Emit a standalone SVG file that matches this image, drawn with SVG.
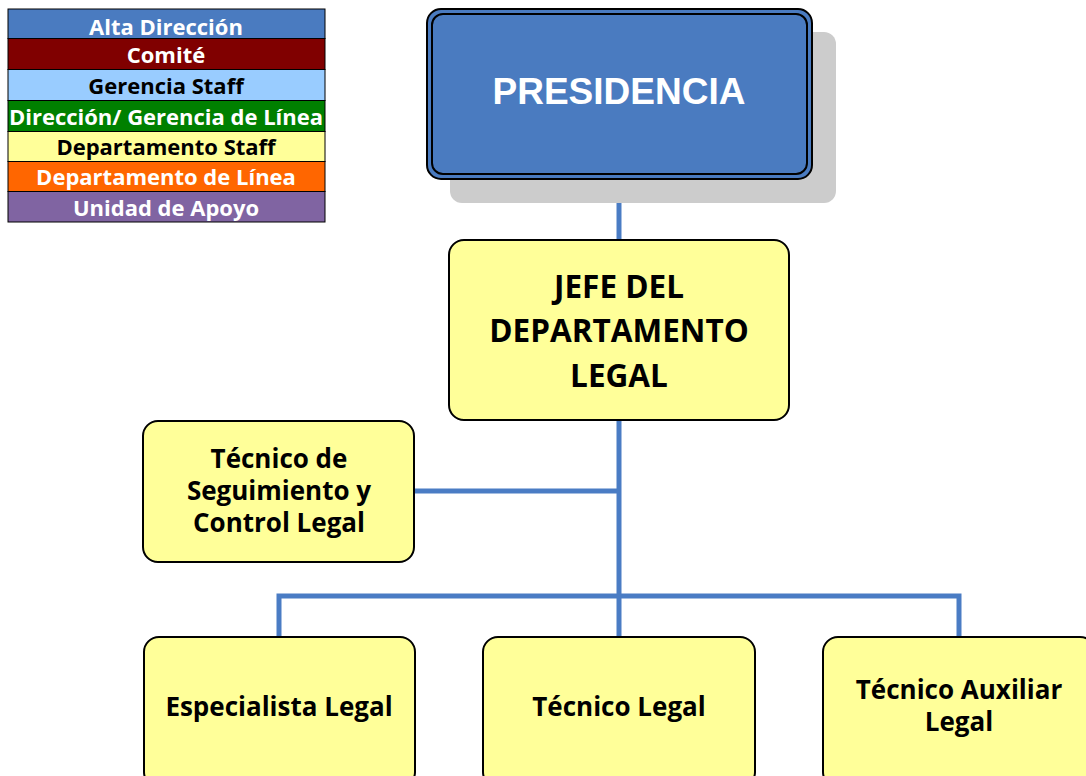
<svg xmlns="http://www.w3.org/2000/svg" width="1086" height="776" viewBox="0 0 1086 776">
<style>
.lg{font-family:"Open Sans",Lato,"Liberation Sans",sans-serif;font-weight:bold;font-size:22px;text-anchor:middle}
.box{fill:#ffff99;stroke:#000;stroke-width:2}
.t{font-family:"Open Sans",Lato,"Liberation Sans",sans-serif;font-weight:bold;fill:#000;text-anchor:middle}
.c{stroke:#4a7cc4;stroke-width:5;fill:none}
</style>
<rect width="1086" height="776" fill="#fff"/>
<g id="legend" stroke="#000" stroke-width="1">
<rect x="8" y="9" width="317" height="29.5" fill="#4a7bc0"/>
<rect x="8" y="38.5" width="317" height="31" fill="#800000"/>
<rect x="8" y="69.5" width="317" height="31" fill="#99ccff"/>
<rect x="8" y="100.5" width="317" height="31" fill="#008000"/>
<rect x="8" y="131.5" width="317" height="30" fill="#ffff99"/>
<rect x="8" y="161.5" width="317" height="30" fill="#ff6600"/>
<rect x="8" y="191.5" width="317" height="30.5" fill="#8064a2"/>
</g>
<g id="legend-text">
<text class="lg" x="166" y="35" fill="#fff">Alta Dirección</text>
<text class="lg" x="166" y="63" fill="#fff">Comité</text>
<text class="lg" x="166" y="94" fill="#000">Gerencia Staff</text>
<text class="lg" x="166" y="125" fill="#fff">Dirección/ Gerencia de Línea</text>
<text class="lg" x="166" y="155" fill="#000">Departamento Staff</text>
<text class="lg" x="166" y="185" fill="#fff">Departamento de Línea</text>
<text class="lg" x="166" y="216" fill="#fff">Unidad de Apoyo</text>
</g>
<g id="connectors">
<line class="c" x1="619" y1="179" x2="619" y2="240"/>
<line class="c" x1="619" y1="420" x2="619" y2="637"/>
<line class="c" x1="414" y1="491" x2="619" y2="491"/>
<polyline class="c" points="279,637 279,596 959,596 959,637"/>
</g>
<g id="presidencia">
<rect x="450" y="32" width="386" height="171" rx="12" fill="#cccccc"/>
<rect x="427" y="9" width="385" height="170" rx="14" fill="#4a7bc0" stroke="#000" stroke-width="2"/>
<rect x="432" y="14" width="375" height="160" rx="11" fill="none" stroke="#000" stroke-width="2"/>
<text x="619" y="104" font-family="Liberation Sans,Arial,sans-serif" font-weight="bold" font-size="37" fill="#fff" text-anchor="middle">PRESIDENCIA</text>
</g>
<g id="jefe">
<rect class="box" x="449" y="240" width="340" height="180" rx="15"/>
<text class="t" font-size="31.5" x="619" y="298">JEFE DEL</text>
<text class="t" font-size="31.5" x="619" y="342">DEPARTAMENTO</text>
<text class="t" font-size="31.5" x="619" y="387">LEGAL</text>
</g>
<g id="seguimiento">
<rect class="box" x="143" y="421" width="271" height="141" rx="15"/>
<text class="t" font-size="26" x="279" y="468">Técnico de</text>
<text class="t" font-size="26" x="279" y="500">Seguimiento y</text>
<text class="t" font-size="26" x="279" y="532">Control Legal</text>
</g>
<g id="especialista">
<rect class="box" x="144" y="637" width="271" height="150" rx="15"/>
<text class="t" font-size="26" x="279" y="716">Especialista Legal</text>
</g>
<g id="tecnico">
<rect class="box" x="483" y="637" width="272" height="150" rx="15"/>
<text class="t" font-size="26" x="619" y="716">Técnico Legal</text>
</g>
<g id="auxiliar">
<rect class="box" x="823" y="637" width="272" height="150" rx="15"/>
<text class="t" font-size="26" x="959" y="699">Técnico Auxiliar</text>
<text class="t" font-size="26" x="959" y="731">Legal</text>
</g>
</svg>
